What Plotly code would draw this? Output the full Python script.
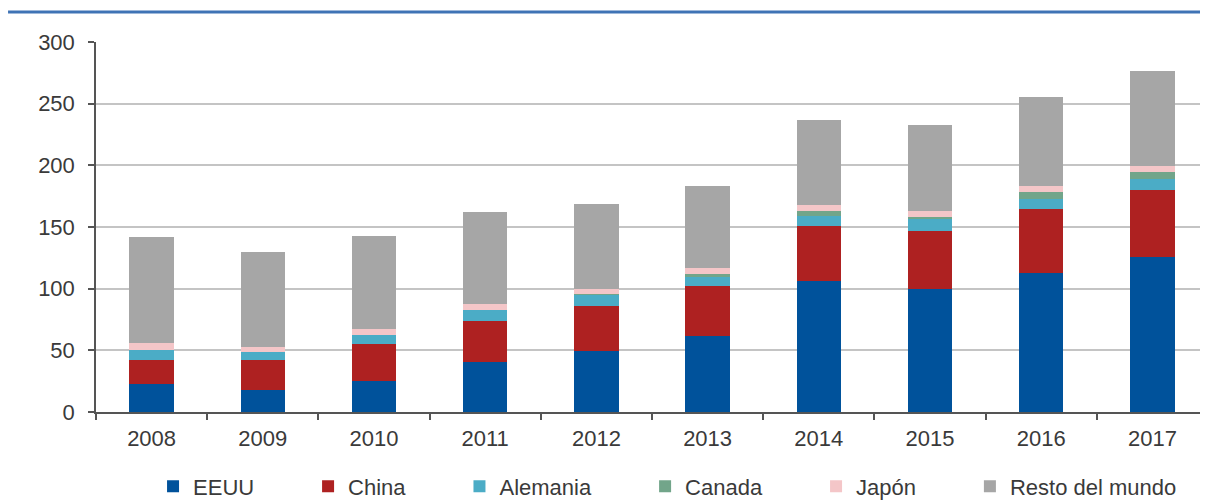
import plotly.graph_objects as go

years = ["2008", "2009", "2010", "2011", "2012", "2013", "2014", "2015", "2016", "2017"]
series_names = ["EEUU", "China", "Alemania", "Canada", "Japón", "Resto del mundo"]

eeuu = [22.4, 17.6, 25.1, 40.8, 49.5, 61.6, 106.2, 99.5, 113.0, 125.7]
china = [19.8, 24.6, 29.8, 33.0, 36.7, 40.3, 44.6, 47.5, 51.9, 54.3]
alemania = [8.1, 6.7, 7.5, 8.9, 8.7, 7.8, 8.1, 9.2, 8.1, 8.7]
canada = [0.0, 0.0, 0.0, 0.0, 1.1, 1.9, 4.3, 2.2, 5.6, 6.2]
japon = [5.9, 4.1, 4.9, 4.9, 4.0, 4.9, 4.4, 4.8, 4.6, 4.6]
resto = [85.4, 77.0, 75.7, 74.6, 68.6, 67.0, 69.2, 69.2, 72.5, 77.0]

y_ticks = [0, 50, 100, 150, 200, 250, 300]

series_values = [eeuu, china, alemania, canada, japon, resto]
colors = ["#00529b", "#ae2121", "#4bacc6", "#72a58a", "#f4c6c8", "#a6a6a6"]

FONT = "Liberation Sans, Arial, sans-serif"
TEXT = "#3a3a3a"

fig = go.Figure()
for i, (name, vals, col) in enumerate(zip(series_names, series_values, colors)):
    pad = "\u00a0" * 8 if i < len(series_names) - 1 else ""
    fig.add_trace(go.Bar(
        x=years, y=vals, name=name + pad, marker=dict(color=col, line=dict(width=0)),
        hovertemplate=name + ": %{y}<extra></extra>",
    ))

fig.update_layout(
    width=1200, height=492,
    barmode="stack", bargap=0.6,
    margin=dict(l=88, r=0, t=34, b=88, autoexpand=False),
    paper_bgcolor="white", plot_bgcolor="white",
    font=dict(family=FONT, size=22, color=TEXT),
    showlegend=True,
    legend=dict(
        orientation="h", x=0.0513, xanchor="left", y=-0.201, yanchor="middle",
        font=dict(family=FONT, size=22, color=TEXT),
        bgcolor="rgba(0,0,0,0)", borderwidth=0, traceorder="normal",
    ),
    xaxis=dict(
        type="category", showgrid=False, showline=True, linecolor="#555555", linewidth=1.5,
        ticks="outside", tickson="boundaries", ticklen=6, tickcolor="#555555", tickwidth=1.5,
        tickfont=dict(family=FONT, size=22, color=TEXT), ticklabelstandoff=6,
        range=[-0.5, 9.5],
    ),
    yaxis=dict(
        range=[0, 300], tickvals=y_ticks, showgrid=True, gridcolor="#c4c4c4", gridwidth=1.5,
        showline=True, linecolor="#555555", linewidth=1.5, ticks="outside", ticklen=6,
        tickcolor="#555555", tickwidth=1.5, zeroline=False,
        tickfont=dict(family=FONT, size=22, color=TEXT), ticklabelstandoff=9,
    ),
    shapes=[dict(
        type="line", xref="paper", yref="paper", x0=-0.0791, x1=1.0, y0=1.081, y1=1.081,
        line=dict(color="#3f73b5", width=3),
    )],
)

fig.write_html("out.html")
